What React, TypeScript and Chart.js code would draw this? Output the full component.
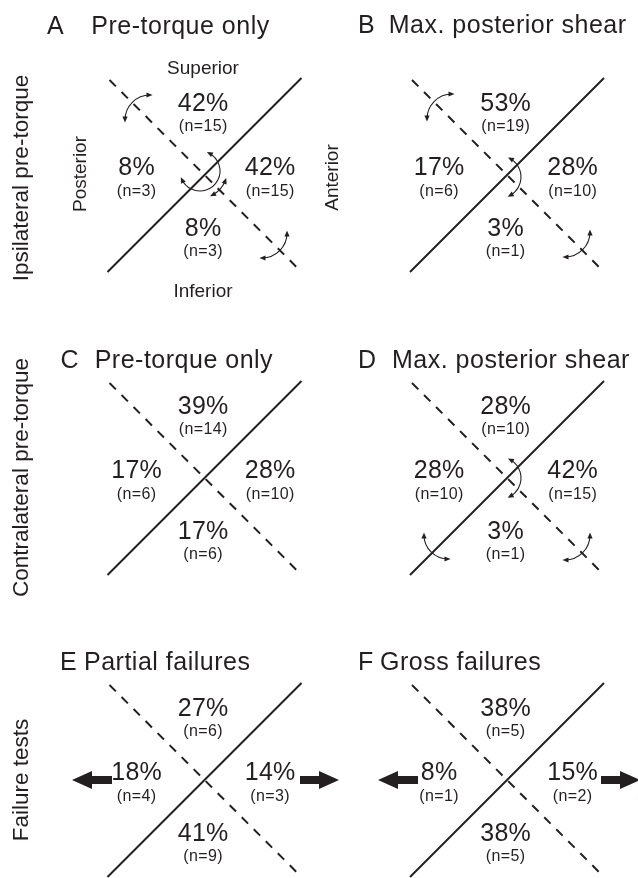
import { useEffect, useRef } from 'react';
import { Chart, registerables } from 'chart.js';

Chart.register(...registerables);

// ---- data -----------------------------------------------------------------
const panelLetters = ['A', 'B', 'C', 'D', 'E', 'F'];
const panelTitles = [
  'Pre-torque only',
  'Max. posterior shear',
  'Pre-torque only',
  'Max. posterior shear',
  'Partial failures',
  'Gross failures',
];
const superiorPct = [42, 53, 39, 28, 27, 38];
const superiorN = [15, 19, 14, 10, 6, 5];
const posteriorPct = [8, 17, 17, 28, 18, 8];
const posteriorN = [3, 6, 6, 10, 4, 1];
const anteriorPct = [42, 28, 28, 42, 14, 15];
const anteriorN = [15, 10, 10, 15, 3, 2];
const inferiorPct = [8, 3, 17, 3, 41, 38];
const inferiorN = [3, 1, 6, 1, 9, 5];
const rowLabels = ['Ipsilateral pre-torque', 'Contralateral pre-torque', 'Failure tests'];
const directionLabels = ['Superior', 'Inferior', 'Posterior', 'Anterior'];

// ---- layout ---------------------------------------------------------------
const W = 638;
const H = 878;
const INK = '#231f20';
const FONT = "'Liberation Sans', Arial, Helvetica, sans-serif";
const colX = [204.5, 507];
const rowY = [175, 478, 780];
const ARM = 97;
const letterX = [47, 358, 60.5, 358, 60, 358];
const titleX = [91.3, 388.7, 94.7, 392, 84, 380];
const titleY = [34, 33, 368, 368, 670, 670];

// rotation arcs per panel: [dx, dy, radius, startDeg, endDeg]
const rotationArcs: number[][][] = [
  [[-54.5, -55, 25, 180, 270], [57.5, 58, 25, 0, 90], [-4.5, -4, 20, -63, 155], [-4.5, -4, 27, 20, 63]],
  [[-55, -56, 25, 180, 270], [58, 57, 25, 0, 90], [-7, 2, 21, -61, 62]],
  [],
  [[-59, 57, 24, 90, 180], [58, 57, 25, 0, 90], [-7, 0, 21, -61, 62]],
  [],
  [],
];
// displacement arrows per panel: [tailDx, tipDx]
const shiftArrows: number[][][] = [
  [], [], [], [],
  [[-92.5, -132.5], [95.5, 134.5]],
  [[-89, -129], [94, 133]],
];

const panelCenter = (i: number) => ({ x: colX[i % 2], y: rowY[Math.floor(i / 2)] });

function buildDatasets() {
  const sets: any[] = [];
  panelLetters.forEach((_, i) => {
    const c = panelCenter(i);
    sets.push({
      data: [{ x: c.x - ARM, y: c.y + ARM }, { x: c.x + ARM, y: c.y - ARM }],
      showLine: true,
      borderColor: INK,
      borderWidth: 2,
      pointRadius: 0,
    });
    sets.push({
      data: [{ x: c.x - ARM + 2, y: c.y - ARM + 2 }, { x: c.x + ARM, y: c.y + ARM }],
      showLine: true,
      borderColor: INK,
      borderWidth: 2,
      borderDash: [9, 8],
      pointRadius: 0,
    });
  });
  return sets;
}

function drawText(ctx: CanvasRenderingContext2D, s: string, x: number, y: number, size: number, align: CanvasTextAlign = 'center', spacing = 0) {
  ctx.save();
  ctx.font = `${size}px ${FONT}`;
  (ctx as any).letterSpacing = `${spacing}px`;
  ctx.textAlign = 'left';
  ctx.textBaseline = 'alphabetic';
  ctx.fillStyle = INK;
  const w = ctx.measureText(s).width - (spacing > 0 ? spacing : 0);
  let x0 = x;
  if (align === 'center') x0 = x - w / 2;
  else if (align === 'right') x0 = x - w;
  ctx.fillText(s, x0, y);
  ctx.restore();
}

function drawRotated(ctx: CanvasRenderingContext2D, s: string, baseX: number, centerY: number, size: number) {
  ctx.save();
  ctx.translate(baseX, centerY);
  ctx.rotate(-Math.PI / 2);
  ctx.font = `${size}px ${FONT}`;
  ctx.textAlign = 'center';
  ctx.textBaseline = 'alphabetic';
  ctx.fillStyle = INK;
  ctx.fillText(s, 0, 0);
  ctx.restore();
}

function arrowHead(ctx: CanvasRenderingContext2D, x: number, y: number, dx: number, dy: number) {
  const len = 6;
  const half = 2.6;
  const tx = x + dx * 2.5;
  const ty = y + dy * 2.5;
  const bx = tx - dx * len;
  const by = ty - dy * len;
  ctx.beginPath();
  ctx.moveTo(tx, ty);
  ctx.lineTo(bx - dy * half, by + dx * half);
  ctx.lineTo(bx + dy * half, by - dx * half);
  ctx.closePath();
  ctx.fill();
}

const diagramPlugin = {
  id: 'shoulderDiagram',
  afterDatasetsDraw(chart: any) {
    const ctx: CanvasRenderingContext2D = chart.ctx;
    const sx = chart.scales.x;
    const sy = chart.scales.y;
    const px = (v: number) => sx.getPixelForValue(v);
    const py = (v: number) => sy.getPixelForValue(v);
    const unit = px(1) - px(0);

    panelLetters.forEach((letter, i) => {
      const c = panelCenter(i);
      // titles
      drawText(ctx, letter, px(letterX[i]), py(titleY[i]), 25, 'left', 0.5);
      drawText(ctx, panelTitles[i], px(titleX[i]), py(titleY[i]), 25, 'left', 0.5);

      // quadrant percentages
      const mid = c.x - 1.5;
      drawText(ctx, `${superiorPct[i]}%`, px(mid), py(c.y - 64.5), 25, 'center', 0.3);
      drawText(ctx, `(n=${superiorN[i]})`, px(mid), py(c.y - 44.5), 16, 'center', 0.4);
      drawText(ctx, `${posteriorPct[i]}%`, px(c.x - 68), py(c.y - 0.5), 25, 'center', 0.3);
      drawText(ctx, `(n=${posteriorN[i]})`, px(c.x - 68), py(c.y + 20.5), 16, 'center', 0.4);
      drawText(ctx, `${anteriorPct[i]}%`, px(c.x + 65.5), py(c.y - 0.5), 25, 'center', 0.3);
      drawText(ctx, `(n=${anteriorN[i]})`, px(c.x + 65.5), py(c.y + 20.5), 16, 'center', 0.4);
      drawText(ctx, `${inferiorPct[i]}%`, px(mid), py(c.y + 60.5), 25, 'center', 0.3);
      drawText(ctx, `(n=${inferiorN[i]})`, px(mid), py(c.y + 81), 16, 'center', 0.4);

      // rotation arcs
      ctx.save();
      ctx.strokeStyle = INK;
      ctx.fillStyle = INK;
      ctx.lineWidth = 1.1;
      rotationArcs[i].forEach(([dx, dy, r, a0, a1]) => {
        const cx = px(c.x + dx);
        const cy = py(c.y + dy);
        const rr = r * unit;
        const t0 = (a0 * Math.PI) / 180;
        const t1 = (a1 * Math.PI) / 180;
        ctx.beginPath();
        ctx.arc(cx, cy, rr, t0, t1);
        ctx.stroke();
        arrowHead(ctx, cx + rr * Math.cos(t0), cy + rr * Math.sin(t0), Math.sin(t0), -Math.cos(t0));
        arrowHead(ctx, cx + rr * Math.cos(t1), cy + rr * Math.sin(t1), -Math.sin(t1), Math.cos(t1));
      });
      ctx.restore();

      // displacement arrows
      ctx.save();
      ctx.fillStyle = INK;
      shiftArrows[i].forEach(([tailDx, tipDx]) => {
        const y = py(c.y);
        const tail = px(c.x + tailDx);
        const tip = px(c.x + tipDx);
        const s = Math.sign(tip - tail);
        const hb = tip - s * 20;
        ctx.beginPath();
        ctx.moveTo(tail, y - 4);
        ctx.lineTo(hb, y - 4);
        ctx.lineTo(hb, y - 9);
        ctx.lineTo(tip, y);
        ctx.lineTo(hb, y + 9);
        ctx.lineTo(hb, y + 4);
        ctx.lineTo(tail, y + 4);
        ctx.closePath();
        ctx.fill();
      });
      ctx.restore();
    });

    // anatomical directions around panel A
    const a = panelCenter(0);
    drawText(ctx, directionLabels[0], px(a.x - 1.5), py(a.y - 101), 19);
    drawText(ctx, directionLabels[1], px(a.x - 1.5), py(a.y + 121.5), 19);
    drawRotated(ctx, directionLabels[2], px(a.x - 118.5), py(a.y - 1), 19);
    drawRotated(ctx, directionLabels[3], px(a.x + 133.5), py(a.y + 2.5), 19);

    // row labels
    drawRotated(ctx, rowLabels[0], px(28), py(178), 22.5);
    drawRotated(ctx, rowLabels[1], px(28), py(477.5), 22.5);
    drawRotated(ctx, rowLabels[2], px(28), py(780), 22.5);
  },
};

export default function App() {
  const canvasRef = useRef<HTMLCanvasElement | null>(null);

  useEffect(() => {
    document.body.style.margin = '0';
    const canvas = canvasRef.current;
    if (!canvas) return;
    const chart = new Chart(canvas, {
      type: 'scatter',
      data: { datasets: buildDatasets() },
      options: {
        animation: false,
        responsive: false,
        devicePixelRatio: 1,
        events: [],
        layout: { padding: 0 },
        plugins: { legend: { display: false }, tooltip: { enabled: false } },
        scales: {
          x: { type: 'linear', min: 0, max: W, display: false },
          y: { type: 'linear', min: 0, max: H, reverse: true, display: false },
        },
      },
      plugins: [diagramPlugin],
    });
    return () => chart.destroy();
  }, []);

  return (
    <div style={{ width: W, height: H, background: '#fff' }}>
      <canvas ref={canvasRef} width={W} height={H} style={{ display: 'block', width: W, height: H }} />
    </div>
  );
}
